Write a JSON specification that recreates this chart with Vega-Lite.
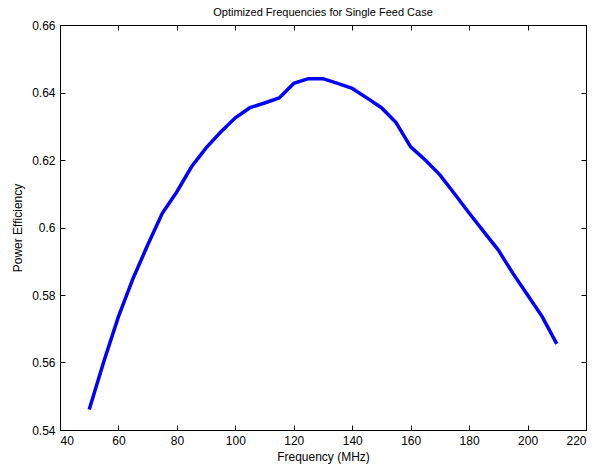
{
  "$schema": "https://vega.github.io/schema/vega-lite/v6.json",
  "width": 526,
  "height": 405,
  "autosize": {"type": "none"},
  "padding": {"left": 60, "top": 25, "right": 9, "bottom": 37},
  "background": "white",
  "title": {"text": "Optimized Frequencies for Single Feed Case", "font": "Liberation Sans", "fontSize": 11, "fontWeight": "normal", "color": "black", "offset": 1},
  "config": {
    "view": {"stroke": "black", "strokeWidth": 1},
    "axis": {
      "labelFont": "Liberation Sans", "labelFontSize": 12, "labelColor": "black",
      "titleFont": "Liberation Sans", "titleFontSize": 12, "titleFontWeight": "normal", "titleColor": "black",
      "grid": false, "domainColor": "black", "tickColor": "black", "tickSize": -5
    }
  },
  "data": {"values": [
    {"f": 50, "e": 0.5461}, {"f": 55, "e": 0.5603}, {"f": 60, "e": 0.5736}, {"f": 65, "e": 0.5849},
    {"f": 70, "e": 0.5948}, {"f": 75, "e": 0.6042}, {"f": 80, "e": 0.6106}, {"f": 85, "e": 0.618},
    {"f": 90, "e": 0.6236}, {"f": 95, "e": 0.6283}, {"f": 100, "e": 0.6325}, {"f": 105, "e": 0.6355},
    {"f": 110, "e": 0.6369}, {"f": 115, "e": 0.6384}, {"f": 120, "e": 0.6427}, {"f": 125, "e": 0.6441},
    {"f": 130, "e": 0.6441}, {"f": 135, "e": 0.6427}, {"f": 140, "e": 0.6412}, {"f": 145, "e": 0.6384},
    {"f": 150, "e": 0.6355}, {"f": 155, "e": 0.6311}, {"f": 160, "e": 0.6239}, {"f": 165, "e": 0.62},
    {"f": 170, "e": 0.6156}, {"f": 175, "e": 0.6100}, {"f": 180, "e": 0.6043}, {"f": 185, "e": 0.5988},
    {"f": 190, "e": 0.5933}, {"f": 195, "e": 0.5864}, {"f": 200, "e": 0.5800}, {"f": 205, "e": 0.5736},
    {"f": 210, "e": 0.5655}
  ]},
  "layer": [
    {
      "mark": {"type": "line", "color": "#0000ff", "strokeWidth": 3.5},
      "encoding": {
        "x": {"field": "f", "type": "quantitative", "scale": {"domain": [40, 220], "nice": false, "zero": false},
          "axis": {"orient": "bottom", "values": [40, 60, 80, 100, 120, 140, 160, 180, 200, 220], "title": "Frequency (MHz)", "labelPadding": 10, "titlePadding": 5}},
        "y": {"field": "e", "type": "quantitative", "scale": {"domain": [0.54, 0.66], "nice": false, "zero": false},
          "axis": {"orient": "left", "values": [0.54, 0.56, 0.58, 0.6, 0.62, 0.64, 0.66], "format": ".2~f", "title": "Power Efficiency", "labelPadding": 10, "titlePadding": 7}}
      }
    },
    {
      "mark": {"type": "line", "strokeOpacity": 0},
      "encoding": {
        "x": {"field": "f", "type": "quantitative", "axis": {"orient": "top", "values": [40, 60, 80, 100, 120, 140, 160, 180, 200, 220], "labels": false, "title": null}},
        "y": {"field": "e", "type": "quantitative", "axis": {"orient": "right", "values": [0.54, 0.56, 0.58, 0.6, 0.62, 0.64, 0.66], "labels": false, "title": null}}
      }
    }
  ],
  "resolve": {"axis": {"x": "independent", "y": "independent"}}
}
